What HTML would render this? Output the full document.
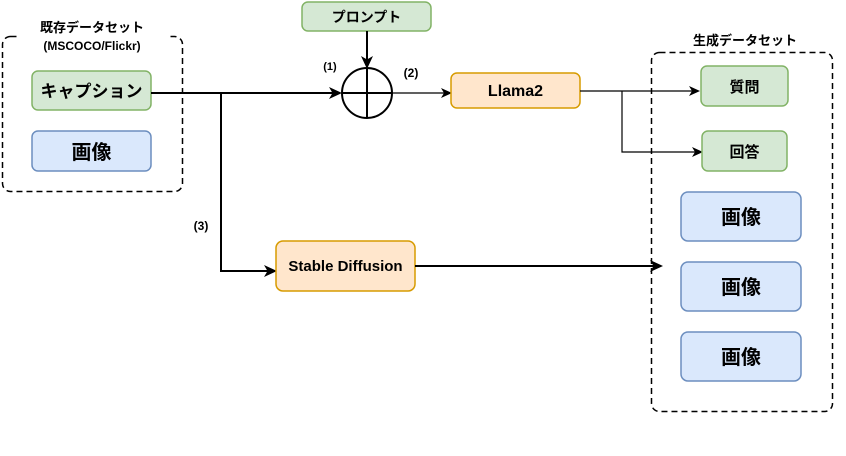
<!DOCTYPE html>
<html><head><meta charset="utf-8"><style>
body{margin:0;background:#fff;}
svg text{font-family:"Liberation Sans","Noto Sans CJK JP",sans-serif;font-weight:bold;fill:#000;}
</style></head><body>
<svg width="846" height="451" viewBox="0 0 846 451" xmlns="http://www.w3.org/2000/svg">
<defs>
<marker id="a" markerWidth="13" markerHeight="12" refX="11" refY="6" orient="auto" markerUnits="userSpaceOnUse"><path d="M0,0 L13,6 L0,12 L3.5,6 Z" fill="#000"/></marker>
<marker id="b" markerWidth="11" markerHeight="10" refX="9" refY="5" orient="auto" markerUnits="userSpaceOnUse"><path d="M0,0 L11,5 L0,10 L3,5 Z" fill="#000"/></marker>
</defs>
<rect x="2.5" y="36.5" width="180" height="155" rx="8" fill="none" stroke="#000" stroke-width="1.5" stroke-dasharray="6,4"/>
<rect x="651.5" y="52.5" width="181" height="359" rx="8" fill="none" stroke="#000" stroke-width="1.5" stroke-dasharray="6,4"/>
<rect x="18" y="30" width="150" height="14" fill="#fff"/>
<text x="92" y="32" font-size="13" text-anchor="middle">既存データセット</text>
<text x="92" y="50" font-size="12" text-anchor="middle">(MSCOCO/Flickr)</text>
<text x="745" y="45" font-size="13" text-anchor="middle">生成データセット</text>
<rect x="32" y="71" width="119" height="39" rx="6" fill="#d5e8d4" stroke="#82b366" stroke-width="1.5"/>
<text x="91.5" y="97" font-size="17" text-anchor="middle">キャプション</text>
<rect x="32" y="131" width="119" height="40" rx="6" fill="#dae8fc" stroke="#6c8ebf" stroke-width="1.5"/>
<text x="91.5" y="159" font-size="20" text-anchor="middle">画像</text>
<rect x="302" y="2" width="129" height="29" rx="6" fill="#d5e8d4" stroke="#82b366" stroke-width="1.5"/>
<text x="366.5" y="22" font-size="14" text-anchor="middle">プロンプト</text>
<line x1="367" y1="31" x2="367" y2="67" stroke="#000" stroke-width="2" marker-end="url(#a)"/>
<circle cx="367" cy="93" r="25" fill="none" stroke="#000" stroke-width="2"/>
<line x1="342" y1="93" x2="392" y2="93" stroke="#000" stroke-width="2"/>
<line x1="367" y1="68" x2="367" y2="118" stroke="#000" stroke-width="2"/>
<polyline points="151,93 340,93" fill="none" stroke="#000" stroke-width="2" marker-end="url(#a)"/>
<polyline points="221,93 221,271 275,271" fill="none" stroke="#000" stroke-width="2" marker-end="url(#a)"/>
<line x1="392" y1="93" x2="450" y2="93" stroke="#000" stroke-width="1.2" marker-end="url(#b)"/>
<text x="330" y="70" font-size="11" text-anchor="middle">(1)</text>
<text x="411" y="77" font-size="12" text-anchor="middle">(2)</text>
<text x="201" y="230" font-size="12" text-anchor="middle">(3)</text>
<rect x="451" y="73" width="129" height="35" rx="6" fill="#ffe6cc" stroke="#d79b00" stroke-width="1.5"/>
<text x="515.5" y="96" font-size="16" text-anchor="middle">Llama2</text>
<line x1="580" y1="91" x2="698" y2="91" stroke="#000" stroke-width="1.2" marker-end="url(#b)"/>
<polyline points="622,91 622,152 701,152" fill="none" stroke="#000" stroke-width="1.2" marker-end="url(#b)"/>
<rect x="701" y="66" width="87" height="40" rx="6" fill="#d5e8d4" stroke="#82b366" stroke-width="1.5"/>
<text x="744.5" y="92" font-size="15" text-anchor="middle">質問</text>
<rect x="702" y="131" width="85" height="40" rx="6" fill="#d5e8d4" stroke="#82b366" stroke-width="1.5"/>
<text x="744.5" y="157" font-size="15" text-anchor="middle">回答</text>
<rect x="681" y="192" width="120" height="49" rx="7" fill="#dae8fc" stroke="#6c8ebf" stroke-width="1.5"/>
<text x="741" y="224" font-size="20" text-anchor="middle">画像</text>
<rect x="681" y="262" width="120" height="49" rx="7" fill="#dae8fc" stroke="#6c8ebf" stroke-width="1.5"/>
<text x="741" y="294" font-size="20" text-anchor="middle">画像</text>
<rect x="681" y="332" width="120" height="49" rx="7" fill="#dae8fc" stroke="#6c8ebf" stroke-width="1.5"/>
<text x="741" y="364" font-size="20" text-anchor="middle">画像</text>
<rect x="276" y="241" width="139" height="50" rx="7" fill="#ffe6cc" stroke="#d79b00" stroke-width="1.5"/>
<text x="345.5" y="271" font-size="15" text-anchor="middle">Stable Diffusion</text>
<line x1="415" y1="266" x2="661" y2="266" stroke="#000" stroke-width="2" marker-end="url(#a)"/>
</svg>
</body></html>
